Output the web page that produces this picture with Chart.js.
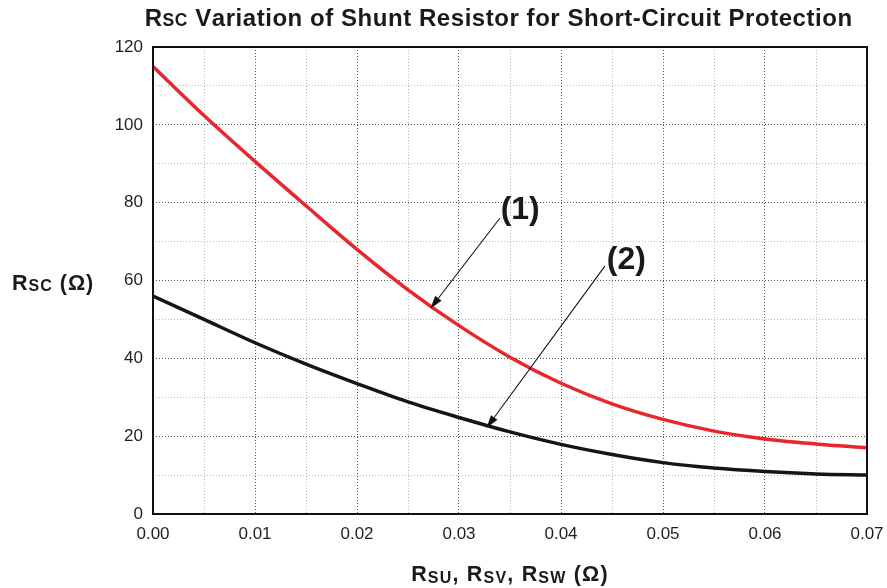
<!DOCTYPE html>
<html>
<head>
<meta charset="utf-8">
<script src="https://cdn.jsdelivr.net/npm/chart.js@4/dist/chart.umd.min.js"></script>
<style>
html,body{margin:0;padding:0;background:#fff;}
#wrap{width:887px;height:588px;position:relative;}
</style>
</head>
<body>
<div id="wrap"><canvas id="c" width="887" height="588"></canvas></div>
<script>
// ---- data ----
const xValues = [0, 0.005, 0.01, 0.015, 0.02, 0.025, 0.03, 0.035, 0.04, 0.045, 0.05, 0.055, 0.06, 0.065, 0.07];
const curve1 = [115, 102.4, 90.6, 79.2, 68.0, 57.6, 48.4, 40.3, 33.6, 28.3, 24.3, 21.3, 19.3, 18.0, 17.0];
const curve2 = [56, 50, 44, 38.5, 33.5, 28.8, 24.8, 21.1, 17.9, 15.3, 13.2, 11.8, 10.9, 10.3, 10.0];
const yTickLabels = [0, 20, 40, 60, 80, 100, 120];
const xTickLabels = ['0.00', '0.01', '0.02', '0.03', '0.04', '0.05', '0.06', '0.07'];
// annotations (data units)
const noteLabels = ['(1)', '(2)'];
const noteLabelPos = [[0.0360, 78.1], [0.0464, 65.3]];
const arrowFrom = [[0.0340, 76.0], [0.0443, 63.7]];
const arrowTo = [[0.0272, 52.8], [0.0327, 22.1]];
// title / axis label parts: [text, isSmall]
const titleParts = [['R', false], ['SC', true], [' Variation of Shunt Resistor for Short-Circuit Protection', false]];
const yLabelParts = [['R', false], ['SC', true], [' (Ω)', false]];
const xLabelParts = [['R', false], ['SU', true], [', R', false], ['SV', true], [', R', false], ['SW', true], [' (Ω)', false]];

const FONT = '"Liberation Sans", Arial, Helvetica, sans-serif';

function drawParts(ctx, parts, cx, baseline, size, smallSize, smallDrop, align, spacing) {
  const fBig = 'bold ' + size + 'px ' + FONT;
  const fSmall = 'bold ' + smallSize + 'px ' + FONT;
  const sp = spacing || 0;
  const widthOf = t => ctx.measureText(t).width + sp * t.length;
  let total = 0;
  parts.forEach(p => { ctx.font = p[1] ? fSmall : fBig; total += widthOf(p[0]); });
  let x = align === 'left' ? cx : cx - total / 2;
  ctx.textAlign = 'left';
  ctx.textBaseline = 'alphabetic';
  parts.forEach(p => {
    ctx.font = p[1] ? fSmall : fBig;
    for (const ch of p[0]) {
      ctx.fillText(ch, x, baseline + (p[1] ? smallDrop : 0));
      x += ctx.measureText(ch).width + sp;
    }
  });
}

const decor = {
  id: 'decor',
  afterDraw(chart) {
    const ctx = chart.ctx;
    const a = chart.chartArea;
    const xs = chart.scales.x, ys = chart.scales.y;
    ctx.save();
    // frame
    ctx.strokeStyle = '#111';
    ctx.lineWidth = 2;
    ctx.strokeRect(a.left, a.top, a.right - a.left, a.bottom - a.top);
    // title and axis labels
    ctx.fillStyle = '#1a1a1a';
    drawParts(ctx, titleParts, (a.left + a.right) / 2 - 12, 26, 24, 17.5, 0, 'center', 0.55);
    drawParts(ctx, yLabelParts, 12, 290, 21.5, 16, 1, 'left', 1);
    drawParts(ctx, xLabelParts, (a.left + a.right) / 2, 581, 21.5, 16, 2, 'center', 1.2);
    // arrows
    ctx.strokeStyle = '#111';
    ctx.fillStyle = '#111';
    ctx.lineWidth = 1.1;
    for (let i = 0; i < arrowFrom.length; i++) {
      const x1 = xs.getPixelForValue(arrowFrom[i][0]), y1 = ys.getPixelForValue(arrowFrom[i][1]);
      const x2 = xs.getPixelForValue(arrowTo[i][0]), y2 = ys.getPixelForValue(arrowTo[i][1]);
      const ang = Math.atan2(y2 - y1, x2 - x1);
      const L = 13, W = 4;
      const bx = x2 - L * Math.cos(ang), by = y2 - L * Math.sin(ang);
      ctx.beginPath(); ctx.moveTo(x1, y1); ctx.lineTo(bx, by); ctx.stroke();
      ctx.beginPath();
      ctx.moveTo(x2, y2);
      ctx.lineTo(bx + W * Math.sin(ang), by - W * Math.cos(ang));
      ctx.lineTo(bx - W * Math.sin(ang), by + W * Math.cos(ang));
      ctx.closePath(); ctx.fill();
    }
    // labels
    ctx.fillStyle = '#1a1a1a';
    ctx.font = 'bold 32px ' + FONT;
    ctx.textAlign = 'center';
    ctx.textBaseline = 'middle';
    for (let i = 0; i < noteLabels.length; i++) {
      ctx.fillText(noteLabels[i], xs.getPixelForValue(noteLabelPos[i][0]), ys.getPixelForValue(noteLabelPos[i][1]));
    }
    ctx.restore();
  }
};

function isMajorX(v) { return xTickLabels.includes(Number(v).toFixed(2)) && Math.abs(Math.round(v * 100) - v * 100) < 1e-6; }
function isMajorY(v) { return yTickLabels.includes(Math.round(v)) && Math.abs(Math.round(v) - v) < 1e-6; }

new Chart(document.getElementById('c'), {
  type: 'line',
  data: {
    datasets: [
      { data: xValues.map((x, i) => ({ x: x, y: curve1[i] })), borderColor: '#e8262b', borderWidth: 3.5, pointRadius: 0, cubicInterpolationMode: 'monotone', fill: false },
      { data: xValues.map((x, i) => ({ x: x, y: curve2[i] })), borderColor: '#151515', borderWidth: 3.5, pointRadius: 0, cubicInterpolationMode: 'monotone', fill: false }
    ]
  },
  options: {
    responsive: false,
    animation: false,
    events: [],
    layout: { padding: { top: 47, right: 20, left: 0, bottom: 0 } },
    plugins: { legend: { display: false }, title: { display: false }, tooltip: { enabled: false } },
    scales: {
      x: {
        type: 'linear', min: 0, max: 0.07,
        afterFit: s => { s.height = 74; s.paddingLeft = 0; s.paddingRight = 0; },
        afterBuildTicks: s => { s.ticks = []; for (let i = 0; i <= 14; i++) s.ticks.push({ value: i * 0.005 }); },
        ticks: {
          autoSkip: false, maxRotation: 0, padding: 10,
          color: '#1f1f1f', font: { family: FONT, size: 17 },
          callback: v => isMajorX(v) ? Number(v).toFixed(2) : ''
        },
        grid: {
          drawTicks: false,
          color: c => isMajorX(c.tick.value) ? '#555' : '#bbb',
          lineWidth: 1
        },
        border: { display: false, dash: [1, 2] }
      },
      y: {
        min: 0, max: 120,
        afterFit: s => { s.width = 153; s.paddingTop = 0; s.paddingBottom = 0; },
        afterBuildTicks: s => { s.ticks = []; for (let i = 0; i <= 12; i++) s.ticks.push({ value: i * 10 }); },
        ticks: {
          autoSkip: false, padding: 10,
          color: '#1f1f1f', font: { family: FONT, size: 17 },
          callback: v => isMajorY(v) ? String(Math.round(v)) : ''
        },
        grid: {
          drawTicks: false,
          color: c => isMajorY(c.tick.value) ? '#555' : '#bbb',
          lineWidth: 1
        },
        border: { display: false, dash: [1, 2] }
      }
    }
  },
  plugins: [decor]
});
</script>
</body>
</html>
